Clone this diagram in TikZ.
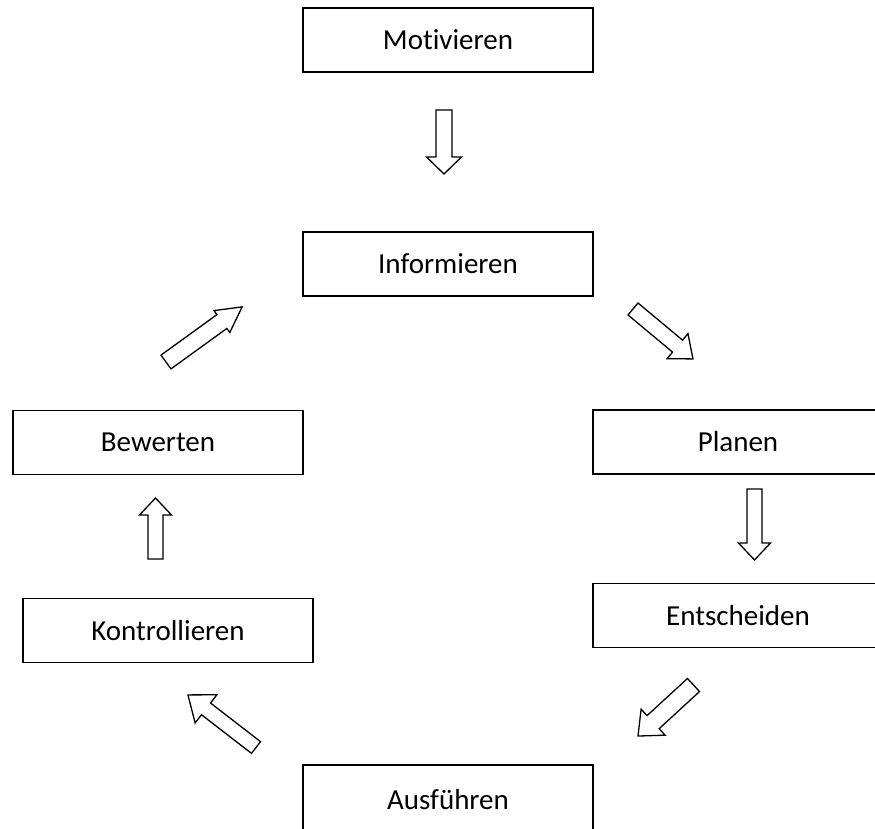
\documentclass[tikz,border=0pt]{standalone}
\usepackage{fontspec}
\setmainfont{Carlito}[Ligatures=NoCommon]
\begin{document}
\begin{tikzpicture}[x=1pt,y=-1pt,
  stepbox/.style={draw,line width=1.3pt,minimum width=290pt,minimum height=64pt,
    inner sep=0pt,font=\fontsize{29}{35}\selectfont},
  arrowline/.style={draw,line width=1.3pt,line join=miter,fill=white},
  pics/blockarrow/.style n args={4}{code={
    \path[arrowline] (0,#2) -- ({#1-#4},#2) -- ({#1-#4},#3) -- (#1,0)
      -- ({#1-#4},-#3) -- ({#1-#4},-#2) -- (0,-#2) -- cycle;}}]
\useasboundingbox (0,0) rectangle (875,829);
\clip (0,0) rectangle (875,829);
% process steps
\node[stepbox] (mot) at (448,40)  {Motivieren};
\node[stepbox] (inf) at (448,264) {Informieren};
\node[stepbox] (pla) at (738,442) {Planen};
\node[stepbox] (ent) at (738,615.5) {Entscheiden};
\node[stepbox,minimum height=70pt] (aus) at (448,800) {Ausführen};
\node[stepbox] (kon) at (168,630.5) {Kontrollieren};
\node[stepbox] (bew) at (158,442.5) {Bewerten};
% block arrows between the steps
\pic[rotate=-90]   at (444,110)   {blockarrow={64}{8}{17.5}{17}};
\pic[rotate=-39.8] at (633,309)   {blockarrow={78}{7.8}{16.3}{20}};
\pic[rotate=-90]   at (754.5,489) {blockarrow={71}{7.5}{16}{17}};
\pic[rotate=222.6] at (693.5,685) {blockarrow={75.4}{8.9}{17.7}{20.5}};
\pic[rotate=142.3] at (256,747.5) {blockarrow={86}{7.4}{17.8}{22.8}};
\pic[rotate=90]    at (155.5,559) {blockarrow={61}{7.5}{16}{17}};
\pic[rotate=35.9]  at (166,362)   {blockarrow={94}{8.5}{13.5}{25}};
\end{tikzpicture}
\end{document}
